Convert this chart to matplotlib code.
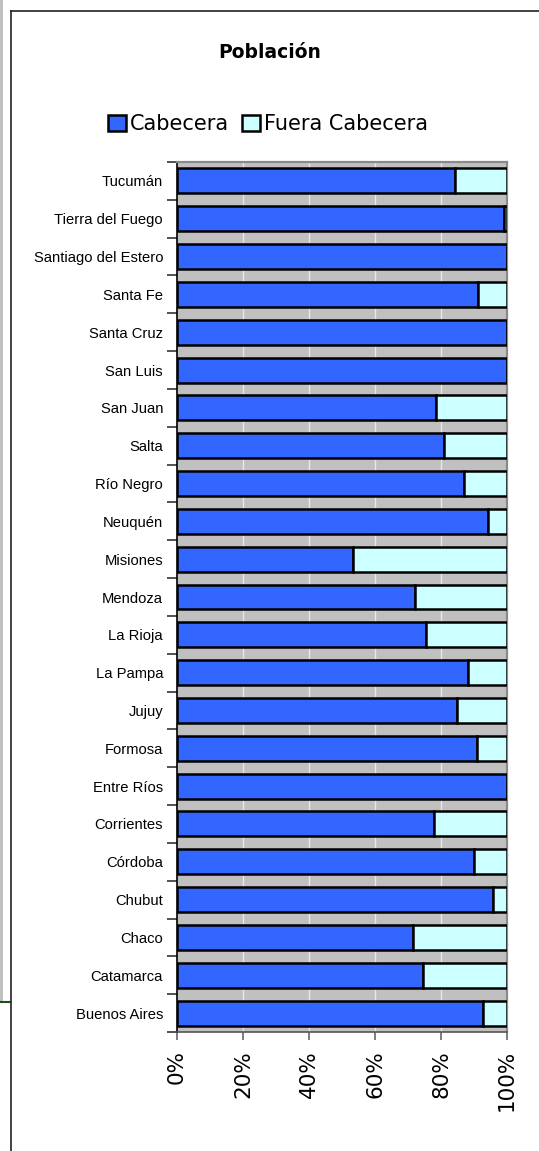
import matplotlib
matplotlib.use("Agg")
import matplotlib.pyplot as plt
from matplotlib.lines import Line2D
from matplotlib.patches import Rectangle, Patch

categories = ["Buenos Aires", "Catamarca", "Chaco", "Chubut", "Córdoba", "Corrientes",
              "Entre Ríos", "Formosa", "Jujuy", "La Pampa", "La Rioja", "Mendoza",
              "Misiones", "Neuquén", "Río Negro", "Salta", "San Juan", "San Luis",
              "Santa Cruz", "Santa Fe", "Santiago del Estero", "Tierra del Fuego", "Tucumán"]
cabecera = [92.6, 74.6, 71.6, 95.9, 89.9, 78.0,
            100.0, 91.0, 84.7, 88.1, 75.6, 72.2,
            53.2, 94.3, 87.0, 80.9, 78.5, 100.0,
            100.0, 91.3, 100.0, 99.2, 84.2]
fuera = [100 - v for v in cabecera]
xticks = [0, 20, 40, 60, 80, 100]
xticklabels = ["0%", "20%", "40%", "60%", "80%", "100%"]
series_names = ["Cabecera", "Fuera Cabecera"]

W, H = 539, 1151
fig = plt.figure(figsize=(W / 100, H / 100), dpi=100)
fig.patch.set_facecolor("white")

# outer decorations
fig.add_artist(Rectangle((0, 1 - 1001 / H), 3 / W, 1001 / H, transform=fig.transFigure,
                         facecolor="#C0C0C0", edgecolor="none"))
fig.add_artist(Line2D([0, 10 / W], [1 - 1001.5 / H, 1 - 1001.5 / H], transform=fig.transFigure,
                      color="#1f4d1f", lw=1.5))
fig.add_artist(Line2D([10.5 / W, 10.5 / W], [0, 1 - 11 / H], transform=fig.transFigure,
                      color="#222222", lw=1.2))
fig.add_artist(Line2D([10.5 / W, 1], [1 - 11 / H, 1 - 11 / H], transform=fig.transFigure,
                      color="#222222", lw=1.2))

left, right = 177 / W, 507 / W
bottom, top = 1 - 1032 / H, 1 - 162 / H
ax = fig.add_axes([left, bottom, right - left, top - bottom])
ax.set_facecolor("#C0C0C0")

y = list(range(len(categories)))
bh = 0.66
ax.barh(y, cabecera, height=bh, color="#3366FF", edgecolor="black", linewidth=1.8, zorder=3,
        label=series_names[0])
ax.barh(y, fuera, left=cabecera, height=bh, color="#CCFFFF", edgecolor="black", linewidth=1.8,
        zorder=3, label=series_names[1])

ax.set_xlim(0, 100)
ax.set_ylim(-0.5, len(categories) - 0.5)
ax.set_xticks(xticks)
ax.set_xticklabels(xticklabels, rotation=90, fontsize=15.5, family="DejaVu Sans")
ax.set_yticks(y)
ax.set_yticklabels(categories, fontsize=10.6, family="Liberation Sans")
ax.set_yticks([i - 0.5 for i in range(len(categories) + 1)], minor=True)
ax.tick_params(axis="y", which="major", length=0, pad=10)
ax.tick_params(axis="y", which="minor", length=7, width=1.2, color="#333333")
ax.tick_params(axis="x", which="major", length=6, width=1.2, color="#666666", pad=7)

for gx in xticks[1:-1]:
    ax.axvline(gx, color="#E8E8E8", lw=1.0, zorder=1)

ax.spines["left"].set_color("black")
ax.spines["left"].set_linewidth(1.2)
ax.spines["bottom"].set_color("#555555")
ax.spines["bottom"].set_linewidth(1.2)
ax.spines["top"].set_color("#8A8A8A")
ax.spines["top"].set_linewidth(1.6)
ax.spines["right"].set_color("#8A8A8A")
ax.spines["right"].set_linewidth(1.6)

fig.text(270 / W, 1 - 52 / H, "Población", ha="center", va="center", fontsize=13.5,
         fontweight="bold", family="DejaVu Sans")

handles = [Patch(facecolor="#3366FF", edgecolor="black", linewidth=1.8),
           Patch(facecolor="#CCFFFF", edgecolor="black", linewidth=1.8)]
fig.legend(handles, series_names, loc="center", bbox_to_anchor=(268 / W, 1 - 124 / H),
           ncol=2, frameon=False, prop={"family": "DejaVu Sans", "size": 15},
           handlelength=0.85, handleheight=0.8, handletextpad=0.2, columnspacing=0.6,
           borderpad=0)

fig.savefig("out.png", dpi=100, facecolor="white")
